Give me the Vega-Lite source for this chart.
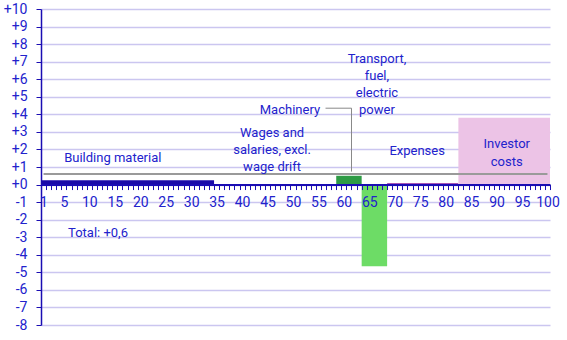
{
  "$schema": "https://vega.github.io/schema/vega-lite/v6.json",
  "autosize": {"type": "none"},
  "padding": {"left": 41, "top": 9, "right": 17, "bottom": 15},
  "width": 509,
  "height": 316,
  "background": "white",
  "config": {
    "view": {"stroke": null},
    "font": "Roboto",
    "text": {"font": "Roboto"}
  },
  "datasets": {
    "segments": [
      {"component": "Building material", "start": 0, "end": 34, "value": 0.25},
      {"component": "Wages and salaries, excl. wage drift", "start": 34, "end": 58, "value": 0},
      {"component": "Machinery", "start": 58, "end": 63, "value": 0.5},
      {"component": "Transport, fuel, electric power", "start": 63, "end": 68, "value": -4.65},
      {"component": "Expenses", "start": 68, "end": 82, "value": 0.08},
      {"component": "Investor costs", "start": 82, "end": 100, "value": 3.8}
    ],
    "total": [
      {"label": "Total", "start": 0.5, "end": 99.5, "value": 0.6}
    ],
    "labels": [
      {"text": "Building  material", "x": 14.1, "y": 1.52},
      {"text": "Wages  and", "x": 45.4, "y": 2.95},
      {"text": "salaries,  excl.", "x": 45.4, "y": 1.98},
      {"text": "wage drift", "x": 45.4, "y": 1.01},
      {"text": "Machinery", "x": 48.9, "y": 4.26},
      {"text": "Transport,", "x": 66.0, "y": 7.16},
      {"text": "fuel,", "x": 66.0, "y": 6.19},
      {"text": "electric", "x": 66.0, "y": 5.22},
      {"text": "power", "x": 66.0, "y": 4.22},
      {"text": "Expenses", "x": 73.9, "y": 1.92},
      {"text": "Investor", "x": 91.5, "y": 2.32},
      {"text": "costs", "x": 91.5, "y": 1.31},
      {"text": "Total: +0,6", "x": 11.2, "y": -2.75}
    ],
    "leader": [
      {"x": 55.9, "y": 4.35, "o": 1},
      {"x": 61.0, "y": 4.35, "o": 2},
      {"x": 61.0, "y": 0.74, "o": 3}
    ]
  },
  "resolve": {"axis": {"x": "independent", "y": "independent"}},
  "layer": [
    {
      "data": {"name": "segments"},
      "mark": {"type": "rect"},
      "encoding": {
        "x": {
          "field": "start", "type": "quantitative",
          "scale": {"domain": [0, 100], "nice": false, "zero": false},
          "axis": {
            "orient": "bottom", "offset": -140.44, "zindex": 1,
            "values": [0,1,2,3,4,5,6,7,8,9,10,11,12,13,14,15,16,17,18,19,20,21,22,23,24,25,26,27,28,29,30,31,32,33,34,35,36,37,38,39,40,41,42,43,44,45,46,47,48,49,50,51,52,53,54,55,56,57,58,59,60,61,62,63,64,65,66,67,68,69,70,71,72,73,74,75,76,77,78,79,80,81,82,83,84,85,86,87,88,89,90,91,92,93,94,95,96,97,98,99,100],
            "labels": false, "grid": false, "title": null,
            "domain": true, "domainColor": "#1a0db3", "domainWidth": 2,
            "ticks": true, "tickColor": "#1a0db3", "tickSize": 5, "tickWidth": 1
          }
        },
        "x2": {"field": "end"},
        "y": {
          "field": "value", "type": "quantitative",
          "scale": {"domain": [-8, 10], "nice": false, "zero": false},
          "axis": {
            "orient": "left",
            "values": [-8,-7,-6,-5,-4,-3,-2,-1,0,1,2,3,4,5,6,7,8,9,10],
            "title": null, "grid": true, "gridColor": "#cbc6f0", "gridWidth": 1.5,
            "domainColor": "#1a0db3", "domainWidth": 1.5,
            "tickColor": "#1a0db3", "tickSize": 5,
            "labelColor": "#2222cc", "labelFontSize": 14, "labelFont": "Roboto",
            "labelPadding": 9, "labelOverlap": false,
            "labelExpr": "(datum.value >= 0 ? '+' : '-') + abs(datum.value)"
          }
        },
        "y2": {"datum": 0},
        "color": {
          "field": "component", "type": "nominal", "legend": null,
          "scale": {
            "domain": ["Building material", "Wages and salaries, excl. wage drift", "Machinery", "Transport, fuel, electric power", "Expenses", "Investor costs"],
            "range": ["#1a0aa8", "#4040c0", "#2e9b45", "#6ddc66", "#8b1a9b", "#ecc3e6"]
          }
        }
      }
    },
    {
      "data": {"name": "total"},
      "mark": {"type": "rule", "color": "#9a9a9a", "strokeWidth": 2},
      "encoding": {
        "x": {
          "field": "start", "type": "quantitative",
          "axis": {
            "orient": "bottom", "offset": -140.44, "zindex": 1,
            "values": [0.5, 4.5, 9.5, 14.5, 19.5, 24.5, 29.5, 34.5, 39.5, 44.5, 49.5, 54.5, 59.5, 64.5, 69.5, 74.5, 79.5, 84.5, 89.5, 94.5, 99.5],
            "labelExpr": "format(datum.value + 0.5, 'd')",
            "ticks": false, "tickSize": 0, "domain": false, "grid": false, "title": null,
            "labelColor": "#2222cc", "labelFontSize": 14, "labelFont": "Roboto",
            "labelPadding": 11, "labelOverlap": false, "labelFlush": false
          }
        },
        "x2": {"field": "end"},
        "y": {"field": "value", "type": "quantitative", "axis": null}
      }
    },
    {
      "data": {"name": "leader"},
      "mark": {"type": "line", "color": "#888888", "strokeWidth": 1},
      "encoding": {
        "x": {"field": "x", "type": "quantitative", "axis": null},
        "y": {"field": "y", "type": "quantitative", "axis": null},
        "order": {"field": "o"}
      }
    },
    {
      "data": {"name": "labels"},
      "mark": {"type": "text", "align": "center", "baseline": "middle", "fontSize": 13, "color": "#2222cc", "font": "Roboto"},
      "encoding": {
        "x": {"field": "x", "type": "quantitative", "axis": null},
        "y": {"field": "y", "type": "quantitative", "axis": null},
        "text": {"field": "text"}
      }
    }
  ]
}
